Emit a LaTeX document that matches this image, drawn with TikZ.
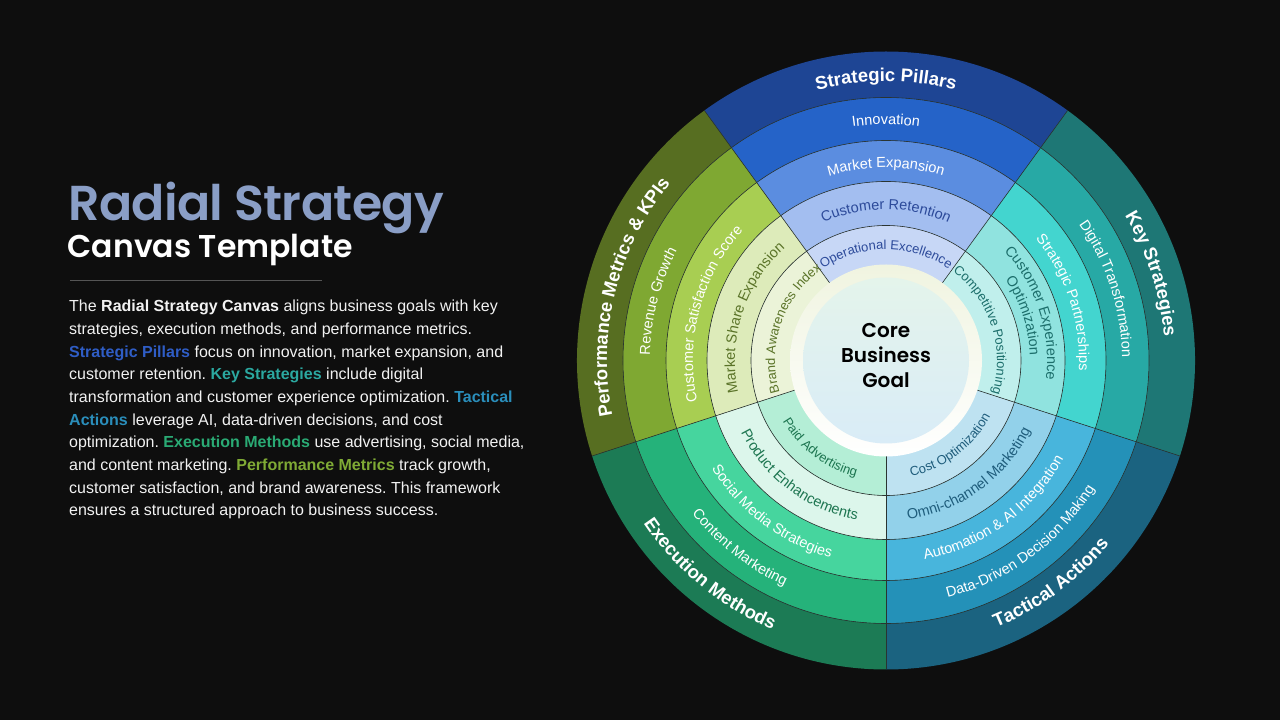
\documentclass[tikz,border=0pt]{standalone}
\usepackage{fontspec}
\setmainfont{Liberation Sans}
\newfontfamily\popfont{Poppins}
\IfFontExistsTF{Poppins SemiBold}{\newfontfamily\popsemi{Poppins SemiBold}}{\newcommand\popsemi{\popfont\bfseries}}
\usetikzlibrary{decorations.text}
\frenchspacing
\definecolor{bgc}{HTML}{0E0E0E}
\definecolor{segline}{HTML}{2A3431}
\definecolor{titleblue}{HTML}{8A9EC6}
\definecolor{rulegray}{HTML}{555555}
\definecolor{kSP}{HTML}{2F5DC6}
\definecolor{kKS}{HTML}{2BA8A0}
\definecolor{kTA}{HTML}{2A8EBB}
\definecolor{kEM}{HTML}{2AAA74}
\definecolor{kPM}{HTML}{7FAA35}
% top
\definecolor{tA}{HTML}{1E4594}
\definecolor{tB}{HTML}{2563C8}
\definecolor{tC}{HTML}{5B8DE0}
\definecolor{tD}{HTML}{A3BEF0}
\definecolor{tE}{HTML}{C7D7F6}
\definecolor{tT}{HTML}{2C4A9A}
% right
\definecolor{rA}{HTML}{1E7775}
\definecolor{rB}{HTML}{27A9A5}
\definecolor{rC}{HTML}{43D5CF}
\definecolor{rD}{HTML}{90E3DF}
\definecolor{rE}{HTML}{C0EFEC}
\definecolor{rT}{HTML}{1C6E6B}
% bottom right
\definecolor{bA}{HTML}{1B6380}
\definecolor{bB}{HTML}{2491B8}
\definecolor{bC}{HTML}{48B5DC}
\definecolor{bD}{HTML}{92D1EA}
\definecolor{bE}{HTML}{BEE2F1}
\definecolor{bT}{HTML}{1F5D7C}
% bottom left
\definecolor{gA}{HTML}{1C7B55}
\definecolor{gB}{HTML}{25B27A}
\definecolor{gC}{HTML}{46D59E}
\definecolor{gD}{HTML}{DCF6EB}
\definecolor{gE}{HTML}{B4EED6}
\definecolor{gT}{HTML}{1D7550}
% left
\definecolor{lA}{HTML}{576E21}
\definecolor{lB}{HTML}{7FA832}
\definecolor{lC}{HTML}{A8CE52}
\definecolor{lD}{HTML}{DDEBBA}
\definecolor{lE}{HTML}{EBF3D8}
\definecolor{lT}{HTML}{5A7328}
% center
\definecolor{ringtop}{HTML}{F0F4E0}
\definecolor{coreTop}{HTML}{E4F4EB}
\definecolor{coreBot}{HTML}{D9ECF7}
\definecolor{paratext}{HTML}{F2F2F2}

\newcommand\wseg[4]{%
  \fill[#4] (#1-36:#3pt) arc[start angle=#1-36,end angle=#1+36,radius=#3pt]
    -- (#1+36:#2pt) arc[start angle=#1+36,end angle=#1-36,radius=#2pt] -- cycle;}
\newcommand\otxt[4]{\path[decorate,decoration={text along path,text align=center,text={|#3|#4}}]
  (#1+85:#2pt) arc[start angle=#1+85,end angle=#1-85,radius=#2pt];}
\newcommand\itxt[4]{\path[decorate,decoration={text along path,text align=center,text={|#3|#4}}]
  (#1-85:#2pt) arc[start angle=#1-85,end angle=#1+85,radius=#2pt];}
\newcommand\fcat{\fontsize{18.5}{20}\selectfont\bfseries\color{white}}
\newcommand\fwt{\fontsize{14.5}{16}\selectfont\color{white}}
\newcommand\fdk[2]{\fontsize{#2}{#2}\selectfont\color{#1}}

\tikzset{paraline/.style={anchor=base west,inner sep=0pt,text=paratext,font=\fontsize{16}{20}\selectfont}}

\begin{document}
\begin{tikzpicture}[x=1pt,y=1pt]
\useasboundingbox (0,0) rectangle (1280,720);
\fill[bgc] (0,0) rectangle (1280,720);

% ---------- left text ----------
\node[anchor=base west,inner sep=0pt,text=titleblue,font=\popsemi\fontsize{49}{54}\selectfont\addfontfeature{LetterSpace=-1.3}] (title1) at (68,499.5) {Radial Strategy};
\node[anchor=base west,inner sep=0pt,text=white,font=\popsemi\fontsize{31.5}{34}\selectfont] (title2) at (67.5,462) {Canvas Template};
\draw[rulegray,line width=0.8pt] (70,440) -- (322,440);

\node[paraline] (p1) at (69,408.3) {The \textbf{Radial Strategy Canvas} aligns business goals with key};
\node[paraline] (p2) at (69,385.6) {strategies, execution methods, and performance metrics.};
\node[paraline] (p3) at (69,362.9) {\textcolor{kSP}{\textbf{Strategic Pillars}} focus on innovation, market expansion, and};
\node[paraline] (p4) at (69,340.2) {customer retention. \textcolor{kKS}{\textbf{Key Strategies}} include digital};
\node[paraline] (p5) at (69,317.5) {transformation and customer experience optimization. \textcolor{kTA}{\textbf{Tactical}}};
\node[paraline] (p6) at (69,294.8) {\textcolor{kTA}{\textbf{Actions}} leverage AI, data-driven decisions, and cost};
\node[paraline] (p7) at (69,272.1) {optimization. \textcolor{kEM}{\textbf{Execution Methods}} use advertising, social media,};
\node[paraline] (p8) at (69,249.4) {and content marketing. \textcolor{kPM}{\textbf{Performance Metrics}} track growth,};
\node[paraline] (p9) at (69,226.7) {customer satisfaction, and brand awareness. This framework};
\node[paraline] (p10) at (69,204.0) {ensures a structured approach to business success.};

% ---------- wheel ----------
\begin{scope}[shift={(886,359.5)}]
% top sector
\wseg{90}{263}{309}{tA}\wseg{90}{220}{263}{tB}\wseg{90}{179}{220}{tC}\wseg{90}{135}{179}{tD}\wseg{90}{90}{135}{tE}
% right sector
\wseg{18}{263}{309}{rA}\wseg{18}{220}{263}{rB}\wseg{18}{179}{220}{rC}\wseg{18}{135}{179}{rD}\wseg{18}{90}{135}{rE}
% bottom right
\wseg{-54}{263}{309}{bA}\wseg{-54}{220}{263}{bB}\wseg{-54}{179}{220}{bC}\wseg{-54}{135}{179}{bD}\wseg{-54}{90}{135}{bE}
% bottom left
\wseg{-126}{263}{309}{gA}\wseg{-126}{220}{263}{gB}\wseg{-126}{179}{220}{gC}\wseg{-126}{135}{179}{gD}\wseg{-126}{90}{135}{gE}
% left
\wseg{162}{263}{309}{lA}\wseg{162}{220}{263}{lB}\wseg{162}{179}{220}{lC}\wseg{162}{135}{179}{lD}\wseg{162}{90}{135}{lE}

\foreach \r in {135,179,220,263} \draw[segline,line width=0.6pt] (0,0) circle[radius=\r pt];
\foreach \a in {54,126,198,270,342} \draw[segline,line width=0.6pt] (\a:96pt) -- (\a:309pt);

% center
\shade[top color=ringtop,bottom color=white] (0,0) circle[radius=96pt];
\shade[top color=coreTop,bottom color=coreBot] (0,0) circle[radius=83pt];
\node[align=center,inner sep=0pt,text=black,font=\popsemi\fontsize{20}{25}\selectfont] (core) at (0,5) {Core\\Business\\Goal};

% texts: top
\otxt{90}{279}{\fcat}{Strategic Pillars}
\otxt{90}{236}{\fwt}{Innovation}
\otxt{90}{193}{\fwt}{Market Expansion}
\otxt{90}{151}{\fdk{tT}{14.5}}{Customer Retention}
\otxt{90}{111}{\fdk{tT}{13}}{Operational Excellence}
% right
\otxt{18}{279}{\fcat}{Key Strategies}
\otxt{18}{236}{\fwt}{Digital Transformation}
\otxt{18}{193}{\fwt}{Strategic Partnerships}
\otxt{18}{161}{\fdk{rT}{14.5}}{Customer Experience}
\otxt{18}{144}{\fdk{rT}{14.5}}{Optimization}
\otxt{18}{111}{\fdk{rT}{13}}{Competitive Positioning}
% bottom right
\itxt{-53.5}{289}{\fcat}{Tactical Actions}
\itxt{-53.5}{245}{\fwt}{Data-Driven Decision Making}
\itxt{-54}{203}{\fwt}{Automation {\&} AI Integration}
\itxt{-54}{160.5}{\fdk{bT}{14.5}}{Omni-channel Marketing}
\itxt{-53}{118.5}{\fdk{bT}{13}}{Cost Optimization}
% bottom left
\itxt{-129.5}{292}{\fcat}{Execution Methods}
\itxt{-128}{247}{\fwt}{Content Marketing}
\itxt{-127}{205}{\fwt}{Social Media Strategies}
\itxt{-127}{162}{\fdk{gT}{14.5}}{Product Enhancements}
\itxt{-127}{120}{\fdk{gT}{13}}{Paid Advertising}
% left
\otxt{166}{279}{\fcat}{Performance Metrics {\&} KPIs}
\otxt{165.5}{236}{\fwt}{Revenue Growth}
\otxt{165}{193}{\fwt}{Customer Satisfaction Score}
\otxt{162}{151}{\fdk{lT}{14.5}}{Market Share Expansion}
\otxt{161}{111}{\fdk{lT}{13}}{Brand Awareness Index}
\end{scope}
\end{tikzpicture}
\end{document}
